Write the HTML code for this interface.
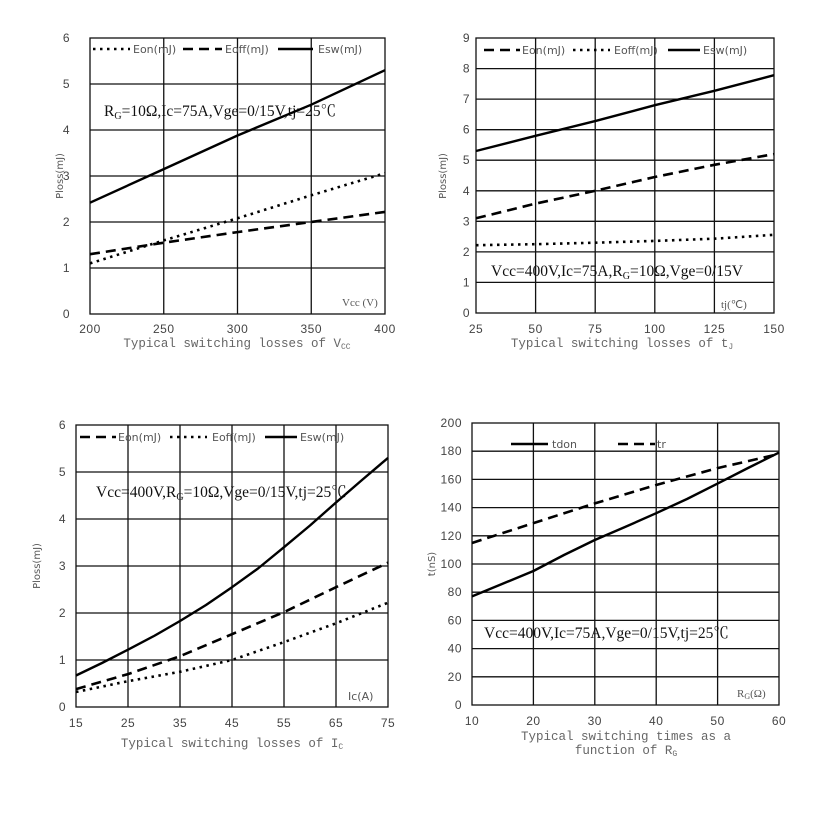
<!DOCTYPE html>
<html><head><meta charset="utf-8"><style>
html,body{margin:0;padding:0;background:#fff;}
svg{display:block;}
.t{font-family:"Liberation Sans","DejaVu Sans",sans-serif;font-size:12px;fill:#444;letter-spacing:0.5px;}
.lg{font-family:"DejaVu Sans","Liberation Sans",sans-serif;font-size:11px;fill:#555;}
.an{font-family:"Liberation Serif","Noto Serif CJK SC",serif;font-size:16px;fill:#111;}
.cap{font-family:"Liberation Mono","DejaVu Sans Mono",monospace;font-size:12.5px;fill:#666;}
.g{stroke:#111;stroke-width:1.3;fill:none;}
.s{stroke:#000;stroke-width:2.4;fill:none;stroke-linejoin:round;}
.d{stroke:#000;stroke-width:2.6;fill:none;stroke-dasharray:10,6;}
.o{stroke:#000;stroke-width:2.6;fill:none;stroke-dasharray:2.5,4.5;}
</style></head><body>
<svg width="836" height="816" viewBox="0 0 836 816" xmlns="http://www.w3.org/2000/svg">
<!-- Chart 1 -->
<g>
<rect x="90" y="38" width="295" height="276" class="g"/>
<path class="g" d="M163.75 38V314M237.5 38V314M311.25 38V314M90 268H385M90 222H385M90 176H385M90 130H385M90 84H385"/>
<g class="t" text-anchor="end"><text x="70" y="318">0</text><text x="70" y="272">1</text><text x="70" y="226">2</text><text x="70" y="180">3</text><text x="70" y="134">4</text><text x="70" y="88">5</text><text x="70" y="42">6</text></g>
<g class="t" text-anchor="middle"><text x="90" y="333">200</text><text x="163.75" y="333">250</text><text x="237.5" y="333">300</text><text x="311.25" y="333">350</text><text x="385" y="333">400</text></g>
<text class="lg" transform="translate(63,176) rotate(-90)" text-anchor="middle" style="font-size:10px">Ploss(mJ)</text>
<text class="cap" x="237" y="347" text-anchor="middle">Typical switching losses of V<tspan font-size="8" dy="2">CC</tspan></text>
<text class="an" x="104" y="116" style="font-size:15.5px">R<tspan font-size="10" dy="3">G</tspan><tspan dy="-3">=10Ω,Ic=75A,Vge=0/15V,tj=25℃</tspan></text>
<text x="342" y="306" style="font-family:'Liberation Serif',serif;font-size:11px;fill:#555">Vcc (V)</text>
<path class="o" d="M93 49H130"/><text class="lg" x="133" y="53">Eon(mJ)</text>
<path class="d" d="M183 49H222"/><text class="lg" x="225" y="53">Eoff(mJ)</text>
<path class="s" d="M278 49H313"/><text class="lg" x="318" y="53">Esw(mJ)</text>
<path class="s" d="M90 202.7L163.75 169.1L237.5 135.5L311.25 104.7L385 70.2"/>
<path class="o" d="M90 263.4L163.75 240.4L237.5 218.3L311.25 195.3L385 173.2"/>
<path class="d" d="M90 254.2L163.75 242.7L237.5 232.1L311.25 222L385 211.9"/>
</g>
<!-- Chart 2 -->
<g>
<rect x="476" y="38" width="298" height="275" class="g"/>
<path class="g" d="M535.6 38V313M595.2 38V313M654.8 38V313M714.4 38V313M476 282.4H774M476 251.9H774M476 221.3H774M476 190.8H774M476 160.2H774M476 129.7H774M476 99.1H774M476 68.6H774"/>
<g class="t" text-anchor="end"><text x="470" y="317">0</text><text x="470" y="286.4">1</text><text x="470" y="255.9">2</text><text x="470" y="225.3">3</text><text x="470" y="194.8">4</text><text x="470" y="164.2">5</text><text x="470" y="133.7">6</text><text x="470" y="103.1">7</text><text x="470" y="72.6">8</text><text x="470" y="42">9</text></g>
<g class="t" text-anchor="middle"><text x="476" y="333">25</text><text x="535.6" y="333">50</text><text x="595.2" y="333">75</text><text x="654.8" y="333">100</text><text x="714.4" y="333">125</text><text x="774" y="333">150</text></g>
<text class="lg" transform="translate(446,176) rotate(-90)" text-anchor="middle" style="font-size:10px">Ploss(mJ)</text>
<text class="cap" x="622" y="347" text-anchor="middle">Typical switching losses of t<tspan font-size="8" dy="2">J</tspan></text>
<text class="an" x="491" y="276" style="font-size:15.5px">Vcc=400V,Ic=75A,R<tspan font-size="10" dy="3">G</tspan><tspan dy="-3">=10Ω,Vge=0/15V</tspan></text>
<text x="721" y="308" style="font-family:'Liberation Serif',serif;font-size:11px;fill:#555">tj(℃)</text>
<path class="d" d="M484 50H520"/><text class="lg" x="522" y="54">Eon(mJ)</text>
<path class="o" d="M573 50H610"/><text class="lg" x="614" y="54">Eoff(mJ)</text>
<path class="s" d="M668 50H700"/><text class="lg" x="703" y="54">Esw(mJ)</text>
<path class="s" d="M476 151L535.6 135.8L595.2 121.1L654.8 105.2L714.4 90.8L774 75.2"/>
<path class="d" d="M476 218.3L535.6 203.6L595.2 190.8L654.8 177L714.4 164.8L774 154.1"/>
<path class="o" d="M476 245.2L535.6 244.2L595.2 242.7L654.8 240.9L714.4 238.7L774 234.8"/>
</g>
<!-- Chart 3 -->
<g>
<rect x="76" y="425" width="312" height="282" class="g"/>
<path class="g" d="M128 425V707M180 425V707M232 425V707M284 425V707M336 425V707M76 660H388M76 613H388M76 566H388M76 519H388M76 472H388"/>
<g class="t" text-anchor="end"><text x="66" y="711">0</text><text x="66" y="664">1</text><text x="66" y="617">2</text><text x="66" y="570">3</text><text x="66" y="523">4</text><text x="66" y="476">5</text><text x="66" y="429">6</text></g>
<g class="t" text-anchor="middle"><text x="76" y="727">15</text><text x="128" y="727">25</text><text x="180" y="727">35</text><text x="232" y="727">45</text><text x="284" y="727">55</text><text x="336" y="727">65</text><text x="388" y="727">75</text></g>
<text class="lg" transform="translate(40,566) rotate(-90)" text-anchor="middle" style="font-size:10px">Ploss(mJ)</text>
<text class="cap" x="232" y="747" text-anchor="middle">Typical switching losses of I<tspan font-size="8" dy="2">C</tspan></text>
<text class="an" x="96" y="497" style="font-size:15.5px">Vcc=400V,R<tspan font-size="10" dy="3">G</tspan><tspan dy="-3">=10Ω,Vge=0/15V,tj=25℃</tspan></text>
<text class="lg" x="348" y="700">Ic(A)</text>
<path class="d" d="M80 437H116"/><text class="lg" x="118" y="441">Eon(mJ)</text>
<path class="o" d="M170 437H207"/><text class="lg" x="212" y="441">Eoff(mJ)</text>
<path class="s" d="M265 437H297"/><text class="lg" x="300" y="441">Esw(mJ)</text>
<path class="s" d="M76 675.5L102 663L128 649.7L154 636L180 621L206 605L232 587.2L258 568.5L284 547.2L310 525.5L336 502.5L362 480L388 457.9"/>
<path class="d" d="M76 689.1L128 674.1L180 656.2L232 634.2L284 612.1L336 587.2L388 562.7"/>
<path class="o" d="M76 692L128 681.2L180 671.8L232 660L284 642.1L336 623.3L388 602.7"/>
</g>
<!-- Chart 4 -->
<g>
<rect x="472" y="423" width="307" height="282" class="g"/>
<path class="g" d="M533.4 423V705M594.8 423V705M656.2 423V705M717.6 423V705M472 676.8H779M472 648.6H779M472 620.4H779M472 592.2H779M472 564H779M472 535.8H779M472 507.6H779M472 479.4H779M472 451.2H779"/>
<g class="t" text-anchor="end"><text x="462" y="709">0</text><text x="462" y="680.8">20</text><text x="462" y="652.6">40</text><text x="462" y="624.4">60</text><text x="462" y="596.2">80</text><text x="462" y="568">100</text><text x="462" y="539.8">120</text><text x="462" y="511.6">140</text><text x="462" y="483.4">160</text><text x="462" y="455.2">180</text><text x="462" y="427">200</text></g>
<g class="t" text-anchor="middle"><text x="472" y="725">10</text><text x="533.4" y="725">20</text><text x="594.8" y="725">30</text><text x="656.2" y="725">40</text><text x="717.6" y="725">50</text><text x="779" y="725">60</text></g>
<text class="lg" transform="translate(435,564) rotate(-90)" text-anchor="middle" style="font-size:10px">t(nS)</text>
<text class="cap" x="626" y="740" text-anchor="middle">Typical switching times as a</text>
<text class="cap" x="626" y="754" text-anchor="middle">function of R<tspan font-size="8" dy="2">G</tspan></text>
<text class="an" x="484" y="638" style="font-size:15.5px">Vcc=400V,Ic=75A,Vge=0/15V,tj=25℃</text>
<text x="737" y="697" style="font-family:'Liberation Serif',serif;font-size:11px;fill:#555">R<tspan font-size="8" dy="2">G</tspan><tspan dy="-2">(Ω)</tspan></text>
<path class="s" d="M511 444H548"/><text class="lg" x="552" y="448">tdon</text>
<path class="d" d="M618 444H655"/><text class="lg" x="657" y="448">tr</text>
<path class="s" d="M472 596.4L502 584L533.4 571L564 555L594.8 540L625 527L656.2 513.2L687 499L717.6 483.6L748 468L779 452.6"/>
<path class="d" d="M472 543L533.4 523.1L594.8 503.4L656.2 485L717.6 468.1L779 454"/>
</g>
</svg>
</body></html>
